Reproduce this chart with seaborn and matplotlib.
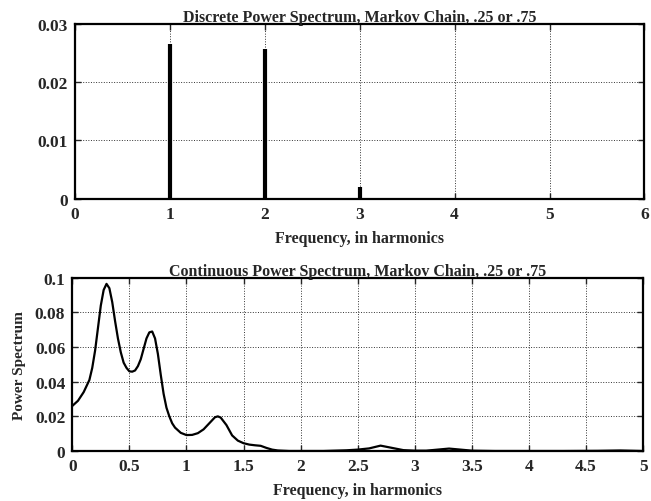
import matplotlib
matplotlib.use('Agg')
import matplotlib.pyplot as plt
import seaborn as sns
import pandas as pd

# discrete spectrum (harmonics)
harm = [1, 2, 3]
harm_power = [0.0265, 0.0257, 0.0021]

# continuous spectrum
freq = [0.0, 0.05, 0.1, 0.15, 0.175, 0.2, 0.225, 0.25, 0.275, 0.3, 0.325, 0.35, 0.375,
        0.4, 0.425, 0.45, 0.475, 0.5, 0.525, 0.55, 0.575, 0.6, 0.625, 0.65, 0.675,
        0.7, 0.725, 0.75, 0.775, 0.8, 0.825, 0.85, 0.875, 0.9, 0.95, 1.0, 1.05, 1.1,
        1.15, 1.2, 1.25, 1.275, 1.3, 1.35, 1.4, 1.45, 1.5, 1.55, 1.6, 1.65, 1.7, 1.75,
        1.8, 1.9, 2.0, 2.2, 2.4, 2.5, 2.6, 2.7, 2.8, 2.9, 3.0, 3.1, 3.2, 3.3, 3.4, 3.5,
        3.7, 4.0, 4.3, 4.6, 4.8, 5.0]
power = [0.026, 0.029, 0.034, 0.041, 0.048, 0.058, 0.071, 0.084, 0.093, 0.0965, 0.094,
         0.086, 0.075, 0.065, 0.057, 0.051, 0.048, 0.046, 0.0458, 0.0465, 0.049, 0.053,
         0.059, 0.065, 0.0685, 0.069, 0.065, 0.056, 0.044, 0.033, 0.025, 0.020, 0.016,
         0.0135, 0.0105, 0.0092, 0.0093, 0.0103, 0.0125, 0.016, 0.0195, 0.020, 0.0193,
         0.015, 0.009, 0.006, 0.0045, 0.0037, 0.0033, 0.0030, 0.0018, 0.0008, 0.0003,
         0.0, 0.0, 0.0, 0.0004, 0.0008, 0.0015, 0.0031, 0.0018, 0.0005, 0.0002, 0.0002,
         0.0008, 0.0014, 0.0008, 0.0002, 0.0, 0.0, 0.0, 0.0001, 0.0003, 0.0]

sns.set_theme(style='white')
plt.rcParams['font.family'] = ['Liberation Serif', 'DejaVu Serif']
plt.rcParams['font.weight'] = 'bold'

fig = plt.figure(figsize=(6.51, 5.02), dpi=100)
ax1 = fig.add_axes([0.115, 0.602, 0.875, 0.349])
ax2 = fig.add_axes([0.111, 0.0996, 0.877, 0.345])

grid_kw = dict(color='black', linestyle=':', linewidth=0.7, alpha=0.8)
lab_kw = dict(fontsize=11.5, fontweight='bold')

# top: discrete power spectrum
ax1.vlines(harm, 0, harm_power, color='black', linewidth=3)
ax1.set_xlim(0, 6)
ax1.set_ylim(0, 0.03)
ax1.set_xticks(range(0, 7))
ax1.set_yticks([0, 0.01, 0.02, 0.03])
ax1.set_yticklabels(['0', '0.01', '0.02', '0.03'])
ax1.set_xlabel('Frequency, in harmonics', labelpad=6, **lab_kw)
ax1.set_title('Discrete Power Spectrum, Markov Chain, .25 or .75', pad=2, **lab_kw)

# bottom: continuous power spectrum
df = pd.DataFrame({'freq': freq, 'power': power})
sns.lineplot(data=df, x='freq', y='power', ax=ax2, color='black', linewidth=1.6)
ax2.set_xlim(0, 5)
ax2.set_ylim(0, 0.1)
ax2.set_xticks([0, 0.5, 1, 1.5, 2, 2.5, 3, 3.5, 4, 4.5, 5])
ax2.set_xticklabels(['0', '0.5', '1', '1.5', '2', '2.5', '3', '3.5', '4', '4.5', '5'])
ax2.set_yticks([0, 0.02, 0.04, 0.06, 0.08, 0.1])
ax2.set_yticklabels(['0', '0.02', '0.04', '0.06', '0.08', '0.1'])
ax2.set_xlabel('Frequency, in harmonics', labelpad=6, **lab_kw)
ax2.set_ylabel('Power Spectrum', labelpad=6, fontsize=11, fontweight='bold')
ax2.set_title('Continuous Power Spectrum, Markov Chain, .25 or .75', pad=2, **lab_kw)

for ax in (ax1, ax2):
    ax.grid(True, **grid_kw)
    ax.tick_params(direction='in', length=4, width=1, labelsize=12.5, pad=5,
                   bottom=True, left=True, top=True, right=True)
    for s in ax.spines.values():
        s.set_color('black')
        s.set_linewidth(1.6)
    for lab in ax.get_xticklabels() + ax.get_yticklabels():
        lab.set_fontweight('bold')

fig.savefig('out.png', dpi=100)
